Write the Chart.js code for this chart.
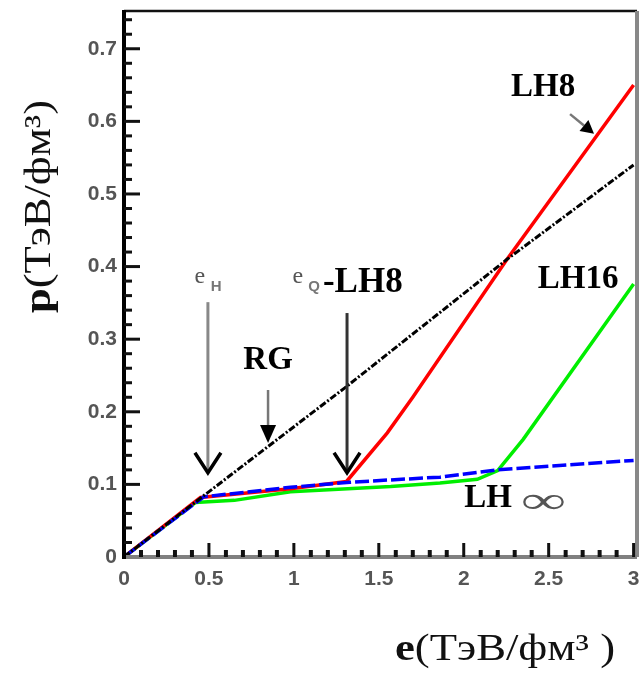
<!DOCTYPE html>
<html>
<head>
<meta charset="utf-8">
<title>p(e)</title>
<script src="https://cdn.jsdelivr.net/npm/chart.js@4.4.1/dist/chart.umd.min.js"></script>
<style>
  html, body { margin: 0; padding: 0; background: #fff; }
  #eos { display: block; }
</style>
</head>
<body>
<canvas id="eos" width="643" height="674"></canvas>
<script>
// energy density e and pressure p for each equation of state
var eRG = [0, 0.45, 1.3, 2.255, 3.0];
var pRG = [0, 0.081, 0.233, 0.41, 0.54];

var eLHinf = [0, 0.47, 0.98, 1.33, 1.86, 2.2, 3.0];
var pLHinf = [0, 0.083, 0.096, 0.103, 0.11, 0.12, 0.133];

var eLH8 = [0, 0.45, 0.98, 1.31, 1.55, 1.7, 2.255, 3.0];
var pLH8 = [0, 0.082, 0.094, 0.104, 0.171, 0.22, 0.41, 0.65];

var eLH16 = [0, 0.42, 0.65, 0.98, 1.57, 1.86, 2.08, 2.2, 2.35, 3.0];
var pLH16 = [0, 0.075, 0.078, 0.09, 0.097, 0.102, 0.107, 0.119, 0.162, 0.376];

var xTickValues = [0, 0.5, 1, 1.5, 2, 2.5, 3];
var xTickLabels = ["0", "0.5", "1", "1.5", "2", "2.5", "3"];
var yTickValues = [0, 0.1, 0.2, 0.3, 0.4, 0.5, 0.6, 0.7];
var yTickLabels = ["0", "0.1", "0.2", "0.3", "0.4", "0.5", "0.6", "0.7"];

var SERIF = "'Liberation Serif', 'DejaVu Serif', serif";
var TICKFONT = { family: "'Liberation Sans Narrow', 'Liberation Sans', sans-serif", size: 21, weight: "bold" };

function toPoints(xs, ys){
  return xs.map(function(x, i){ return { x: x, y: ys[i] }; });
}

// draws a row of text runs, squeezed or stretched to the given width
function drawRuns(ctx, runs, x, y, width, angle){
  var total = 0;
  runs.forEach(function(r){
    ctx.font = r.font;
    r.w = ctx.measureText(r.text).width;
    total += r.w;
  });
  var sx = width ? width / total : 1;
  ctx.save();
  ctx.translate(x, y);
  if(angle) ctx.rotate(angle);
  ctx.scale(sx, 1);
  ctx.textAlign = "left";
  var cx = 0;
  runs.forEach(function(r){
    ctx.font = r.font;
    ctx.fillStyle = r.color || "#000";
    ctx.textBaseline = r.baseline || "alphabetic";
    ctx.fillText(r.text, cx, r.dy || 0);
    cx += r.w;
  });
  ctx.restore();
}

function drawLabel(ctx, text, x, y, font, color){
  ctx.save();
  ctx.font = font;
  ctx.fillStyle = color || "#000";
  ctx.textAlign = "center";
  ctx.textBaseline = "middle";
  ctx.fillText(text, x, y);
  ctx.restore();
}

function line(ctx, x1, y1, x2, y2, color, width){
  ctx.save();
  ctx.setLineDash([]);
  ctx.strokeStyle = color;
  ctx.lineWidth = width;
  ctx.lineCap = "butt";
  ctx.beginPath();
  ctx.moveTo(x1, y1);
  ctx.lineTo(x2, y2);
  ctx.stroke();
  ctx.restore();
}

// vertical arrow with an open "V" head
function openArrow(ctx, x, yTop, yTip, shaftColor){
  line(ctx, x, yTop, x, yTip - 3, shaftColor, 3);
  ctx.save();
  ctx.setLineDash([]);
  ctx.strokeStyle = "#000";
  ctx.lineWidth = 3.5;
  ctx.lineJoin = "miter";
  ctx.beginPath();
  ctx.moveTo(x - 13, yTip - 20);
  ctx.lineTo(x, yTip);
  ctx.lineTo(x + 13, yTip - 20);
  ctx.stroke();
  ctx.restore();
}

// arrow with a small filled head
function solidArrow(ctx, x1, y1, x2, y2, headLen, headHalf){
  var a = Math.atan2(y2 - y1, x2 - x1);
  var bx = x2 - Math.cos(a) * headLen, by = y2 - Math.sin(a) * headLen;
  line(ctx, x1, y1, bx, by, "#777", 2.5);
  ctx.save();
  ctx.fillStyle = "#000";
  ctx.beginPath();
  ctx.moveTo(x2, y2);
  ctx.lineTo(bx + Math.sin(a) * headHalf, by - Math.cos(a) * headHalf);
  ctx.lineTo(bx - Math.sin(a) * headHalf, by + Math.cos(a) * headHalf);
  ctx.closePath();
  ctx.fill();
  ctx.restore();
}

function drawFrame(chart){
  var ctx = chart.ctx, a = chart.chartArea;
  var xs = chart.scales.x, ys = chart.scales.y;
  var i, px, py;

  // box
  line(ctx, a.left, a.top, a.right, a.top, "#111", 2.5);
  line(ctx, a.right, a.top, a.right, a.bottom, "#888", 4);
  line(ctx, a.left - 2, a.bottom, a.right, a.bottom, "#808080", 4);
  line(ctx, a.left, a.top - 1, a.left, a.bottom + 2, "#000", 4);

  // inward ticks on the left axis, every 0.02
  for(i = 1; i <= 37; i++){
    py = ys.getPixelForValue(i * 0.02);
    if(i % 5 === 0) line(ctx, a.left, py, a.left + 16, py, "#111", 3);
    else line(ctx, a.left, py, a.left + 8, py, "#111", 3);
  }
  // inward ticks on the bottom axis, every 0.1
  for(i = 1; i <= 30; i++){
    px = xs.getPixelForValue(i * 0.1);
    if(i % 5 === 0) line(ctx, px, a.bottom, px, a.bottom - 14, "#111", 3);
    else line(ctx, px, a.bottom, px, a.bottom - 7, "#111", 4);
  }
}

function drawNotes(chart){
  var ctx = chart.ctx;
  var xs = chart.scales.x, ys = chart.scales.y;
  function X(v){ return xs.getPixelForValue(v); }
  function Y(v){ return ys.getPixelForValue(v); }
  var bold = "bold 33px " + SERIF;

  // curve names
  drawLabel(ctx, "LH8", X(2.467), Y(0.646), bold);
  solidArrow(ctx, X(2.626), Y(0.61), X(2.767), Y(0.583), 13, 7);
  drawLabel(ctx, "LH16", X(2.673), Y(0.382), bold);
  drawLabel(ctx, "RG", X(0.848), Y(0.271), bold);
  solidArrow(ctx, X(0.848), Y(0.23), X(0.848), Y(0.157), 18, 8);
  drawLabel(ctx, "LH", X(2.143), Y(0.081), bold);
  drawRuns(ctx, [{ text: "\u221e", font: "bold 38px " + SERIF, color: "#555", baseline: "middle" }], X(2.34), Y(0.074), 44, 0);

  // hadron and quark onset markers
  drawLabel(ctx, "e", X(0.447), Y(0.386), "24px " + SERIF, "#555");
  drawLabel(ctx, "H", X(0.542), Y(0.372), "bold 15px 'Liberation Sans', sans-serif", "#777");
  openArrow(ctx, X(0.494), Y(0.351), Y(0.116), "#888");

  drawLabel(ctx, "e", X(1.024), Y(0.386), "24px " + SERIF, "#555");
  drawLabel(ctx, "Q", X(1.119), Y(0.372), "bold 15px 'Liberation Sans', sans-serif", "#777");
  drawRuns(ctx, [{ text: "-LH8", font: "bold 35px " + SERIF, baseline: "middle" }], X(1.171), Y(0.377), 0, 0);
  openArrow(ctx, X(1.313), Y(0.336), Y(0.116), "#333");

  // axis titles
  drawRuns(ctx, [
    { text: "e", font: "bold 38px " + SERIF, color: "#111" },
    { text: "(\u0422\u044d\u0412/\u0444\u043c\u00b3 )", font: "38px " + SERIF, color: "#111" }
  ], 395, 660, 220, 0);
  drawRuns(ctx, [
    { text: "p", font: "bold 38px " + SERIF, color: "#111" },
    { text: "(\u0422\u044d\u0412/\u0444\u043c\u00b3)", font: "38px " + SERIF, color: "#111" }
  ], 50, 313, 213, -Math.PI / 2);
}

var framePlugin = {
  id: "frame",
  afterDraw: function(chart){
    drawFrame(chart);
    drawNotes(chart);
  }
};

new Chart(document.getElementById("eos"), {
  type: "scatter",
  data: {
    datasets: [
      {
        label: "RG",
        data: toPoints(eRG, pRG),
        borderColor: "#000",
        borderWidth: 3,
        borderDash: [7, 2, 2, 2]
      },
      {
        label: "LH\u221e",
        data: toPoints(eLHinf, pLHinf),
        borderColor: "#0000ff",
        borderWidth: 3.5,
        borderDash: [14, 4]
      },
      {
        label: "LH8",
        data: toPoints(eLH8, pLH8),
        borderColor: "#ff0000",
        borderWidth: 3.5
      },
      {
        label: "LH16",
        data: toPoints(eLH16, pLH16),
        borderColor: "#00ee00",
        borderWidth: 3.5
      }
    ]
  },
  options: {
    responsive: false,
    animation: false,
    showLine: true,
    elements: {
      point: { radius: 0, hoverRadius: 0 },
      line: { tension: 0, fill: false }
    },
    layout: { padding: { left: 0, top: 11, right: 6, bottom: 0 } },
    plugins: {
      legend: { display: false },
      tooltip: { enabled: false }
    },
    scales: {
      x: {
        type: "linear",
        min: 0,
        max: 3.02,
        afterBuildTicks: function(scale){
          scale.ticks = xTickValues.map(function(v){ return { value: v }; });
        },
        afterFit: function(scale){
          scale.height = 117;
          scale.paddingLeft = 0;
          scale.paddingRight = 0;
        },
        grid: { display: false, drawTicks: false },
        border: { display: false },
        ticks: {
          padding: 10,
          color: "#555",
          font: TICKFONT,
          maxRotation: 0,
          callback: function(value, index){ return xTickLabels[index]; }
        }
      },
      y: {
        type: "linear",
        min: 0,
        max: 0.752,
        afterBuildTicks: function(scale){
          scale.ticks = yTickValues.map(function(v){ return { value: v }; });
        },
        afterFit: function(scale){
          scale.width = 124;
          scale.paddingTop = 0;
          scale.paddingBottom = 0;
        },
        grid: { display: false, drawTicks: false },
        border: { display: false },
        ticks: {
          padding: 7,
          color: "#555",
          font: TICKFONT,
          callback: function(value, index){ return yTickLabels[index]; }
        }
      }
    }
  },
  plugins: [framePlugin]
});
</script>
</body>
</html>
